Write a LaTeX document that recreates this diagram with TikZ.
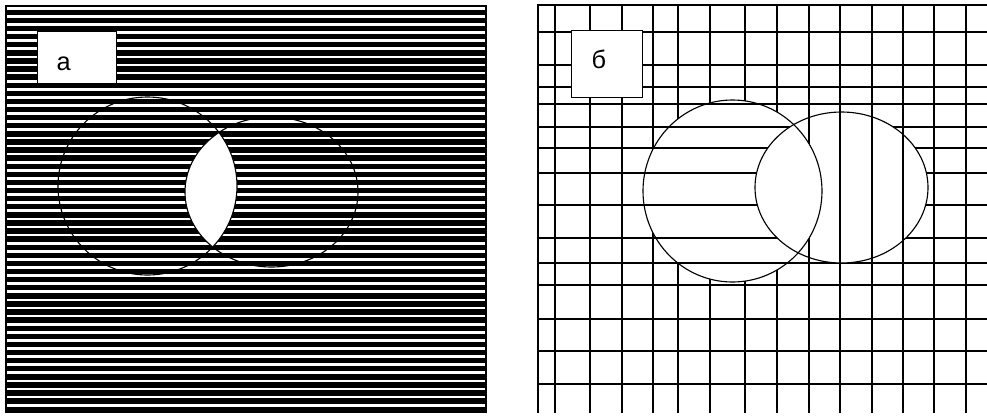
\documentclass[tikz,border=0pt]{standalone}
\usepackage{fontspec}
\setmainfont{Liberation Sans}
\begin{document}
\begin{tikzpicture}[x=0.025cm,y=-0.025cm,
      every node/.style={font=\fontsize{18}{20}\selectfont},
      gridline/.style={line width=1.3pt,draw=black},
      stripe/.style={line width=1.9pt,draw=white},
      outline/.style={line width=0.8pt,draw=black},
      labelbox/.style={draw=black,line width=1pt,fill=white,anchor=north west,
        align=left,inner ysep=0pt}]
      \useasboundingbox (0,0) rectangle (987,416);
      % panel a
      \fill[black] (5,5) rectangle (487,413);
      \foreach \k in {0,...,49}
        \draw[stripe] (7,8.3+8.1*\k) -- (485,8.3+8.1*\k);
      \begin{scope}
        \clip (147.5,186) ellipse [x radius=89.5,y radius=89];
        \fill[white] (271.5,192) ellipse [x radius=86.5,y radius=75];
      \end{scope}
      \draw[outline] (147.5,186) ellipse [x radius=89.5,y radius=89];
      \draw[outline] (271.5,192) ellipse [x radius=86.5,y radius=75];
      \node[labelbox,inner xsep=0.475cm,text width=1.025cm,minimum height=1.3cm] (boxa) at (37,31)
        {\raisebox{-0.14cm}[\height][\depth]{a}};
      % panel b
      \draw[gridline] (538,413) -- (538,5) -- (987,5);
      \begin{scope}[even odd rule]
        \clip (530,0) rectangle (987,416) (732.5,191) ellipse [x radius=89.5,y radius=91];
        \foreach \x in {555,590,622,653,678,710,745,777,809,840,872,903,934,966}
          \draw[gridline] (\x,5) -- (\x,413);
      \end{scope}
      \begin{scope}[even odd rule]
        \clip (530,0) rectangle (987,416) (841.5,187.5) ellipse [x radius=86.5,y radius=75.5];
        \foreach \y in {32,65,87,104,127,148,173,205,238,263,285,319,351,384}
          \draw[gridline] (538,\y) -- (987,\y);
      \end{scope}
      \draw[outline] (732.5,191) ellipse [x radius=89.5,y radius=91];
      \draw[outline] (841.5,187.5) ellipse [x radius=86.5,y radius=75.5];
      \node[labelbox,inner xsep=0.5cm,text width=0.775cm,minimum height=1.675cm] (boxb) at (571,30)
        {\raisebox{0.12cm}[\height][\depth]{б}};
    \end{tikzpicture}
\end{document}
